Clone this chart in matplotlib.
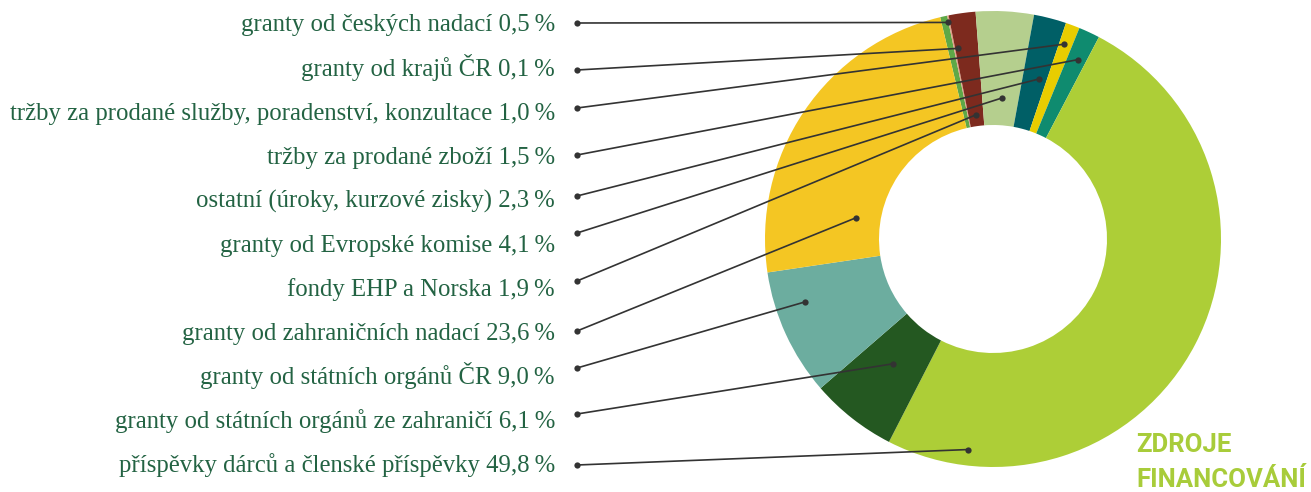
import numpy as np
import matplotlib
matplotlib.use("Agg")
import matplotlib.pyplot as plt

# ---
# data
# ---

# slices in the order they sit on the ring (clockwise from top-left)
slice_names = ["granty od českých nadací",
               "granty od krajů ČR",
               "fondy EHP a Norska",
               "granty od Evropské komise",
               "ostatní (úroky, kurzové zisky)",
               "tržby za prodané služby, poradenství, konzultace",
               "tržby za prodané zboží",
               "příspěvky dárců a členské příspěvky",
               "granty od státních orgánů ze zahraničí",
               "granty od státních orgánů ČR",
               "granty od zahraničních nadací"]
slice_values = [0.5, 0.1, 1.9, 4.1, 2.3, 1.0, 1.5, 49.8, 6.1, 9.0, 23.6]
slice_colors = ["#5ea847", "#e3a084", "#7d2a1e", "#b5cf8e", "#005f66",
                "#e8cd00", "#0f8b6f", "#adce37", "#245821", "#6cad9f",
                "#f4c623"]

# legend rows, top to bottom
label_order = ["granty od českých nadací",
               "granty od krajů ČR",
               "tržby za prodané služby, poradenství, konzultace",
               "tržby za prodané zboží",
               "ostatní (úroky, kurzové zisky)",
               "granty od Evropské komise",
               "fondy EHP a Norska",
               "granty od zahraničních nadací",
               "granty od státních orgánů ČR",
               "granty od státních orgánů ze zahraničí",
               "příspěvky dárců a členské příspěvky"]

# where each leader line ends on the ring: (deg clockwise from top, radius fraction)
anchor_angle = [-11.7, -10.4, 20.1, 25.3, 16.0, 3.7, -7.7, -81.3, -108.5, -141.4, -173.2]
anchor_r = [0.97, 0.85, 0.91, 0.87, 0.73, 0.62, 0.55, 0.61, 0.87, 0.70, 0.93]

# ---
# layout (pixels, y up)
# ---
W, H = 1311, 492
cx, cy = 993, H - 239
R = 228
ring = 0.5

text_col = "#236343"
line_col = "#333333"
title_col = "#a8cc3a"

# text baselines, evenly spaced rows
text_y = H - np.linspace(31.5, 472, len(label_order))
dot_y = H - np.array([23, 70, 108, 155, 196, 233, 281, 331, 368, 414, 465])
dot_x = 577
text_x = 555

fig = plt.figure(figsize=(W / 100, H / 100), dpi=100)
ax = fig.add_axes([0, 0, 1, 1])

ax.pie(slice_values, colors=slice_colors, center=(cx, cy), radius=R,
       startangle=90 + 13.4, counterclock=False,
       wedgeprops=dict(width=R * ring, linewidth=0))

ax.set_xlim(0, W)
ax.set_ylim(0, H)
ax.set_aspect("equal")
ax.axis("off")

# ---
# labels + leader lines
# ---
for i, name in enumerate(label_order):
    v = slice_values[slice_names.index(name)]
    txt = f"{name} {v:.1f}".replace(".", ",") + "\u2009%"
    ax.text(text_x, text_y[i], txt, ha="right", va="baseline",
            fontsize=17.8, color=text_col,
            family=["Liberation Serif", "DejaVu Serif"])

    th = np.deg2rad(90 - anchor_angle[i])
    ex = cx + anchor_r[i] * R * np.cos(th)
    ey = cy + anchor_r[i] * R * np.sin(th)
    ax.plot([dot_x, ex], [dot_y[i], ey], color=line_col, lw=1.2,
            solid_capstyle="round")
    ax.plot([dot_x, ex], [dot_y[i], ey], "o", color=line_col, ms=4.5,
            mec="none")

# title
title_font = ["Roboto", "DejaVu Sans"]
ax.text(1136, H - 452, "ZDROJE", ha="left", va="baseline", fontsize=18.5,
        fontweight="bold", color=title_col, family=title_font)
ax.text(1136, H - 487, "FINANCOVÁNÍ", ha="left", va="baseline", fontsize=18.5,
        fontweight="bold", color=title_col, family=title_font)

fig.savefig("out.png", dpi=100)
